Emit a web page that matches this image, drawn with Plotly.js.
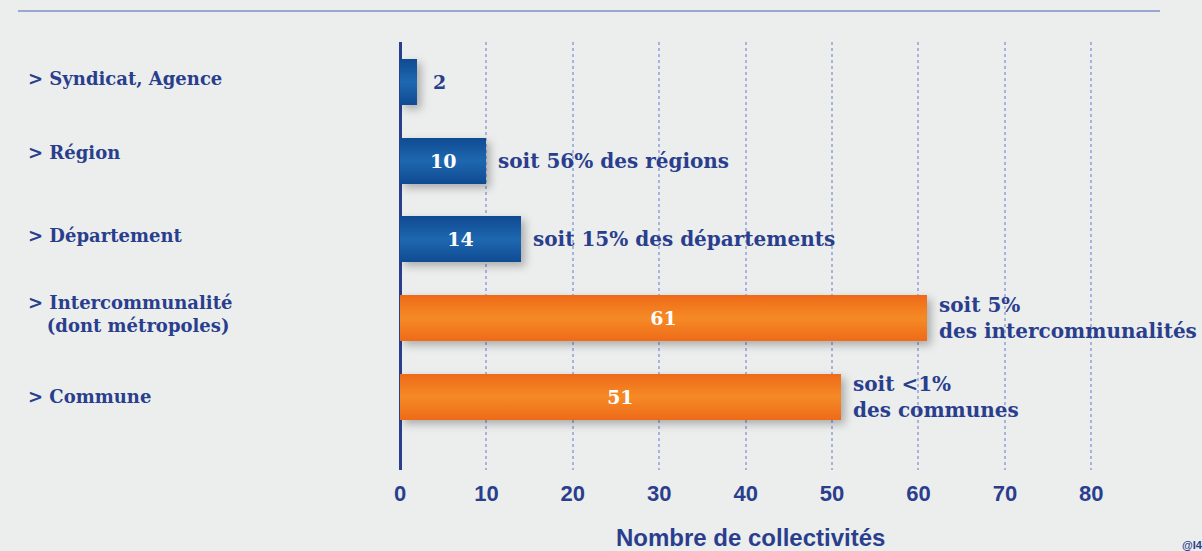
<!DOCTYPE html>
<html lang="fr">
<head>
<meta charset="utf-8">
<title>Nombre de collectivités</title>
<script src="https://cdn.plot.ly/plotly-3.0.1.min.js"></script>
<style>
    html, body { margin: 0; padding: 0; background: #eceeed; }
    #chart { width: 1202px; height: 551px; }
    /* petite ombre portée sous les barres */
    #chart .bars .point path { filter: drop-shadow(4px 4px 4px rgba(0, 0, 0, 0.28)); }
</style>
</head>
<body>
<div id="chart"></div>
<script>
// ---- données ----
const categories = ['Syndicat, Agence', 'Région', 'Département', 'Intercommunalité', 'Commune'];
const categoryLabels = [
    '&gt; Syndicat, Agence',
    '&gt; Région',
    '&gt; Département',
    '&gt; Intercommunalité<br>\u00A0\u00A0\u00A0(dont métropoles)',
    '&gt; Commune'
];
const values = [2, 10, 14, 61, 51];
const shareTexts = [
    '',
    'soit 56% des régions',
    'soit 15% des départements',
    'soit 5%<br>des intercommunalités',
    'soit &lt;1%<br>des communes'
];
const groups = ['autre', 'autre', 'autre', 'bloc', 'bloc'];
const xTicks = [0, 10, 20, 30, 40, 50, 60, 70, 80];

// ---- styles ----
const DARK_BLUE = '#2a3e8e';
const groupColors = { autre: '#1a5fa8', bloc: '#f47b20' };
const groupGradients = {
    autre: ['#0f4a92', '#1e68b0', '#0f4a92'],
    bloc: ['#ee6a18', '#f58a26', '#ee6a18']
};
const SLAB = '"DejaVu Serif", serif';
const SANS = '"Liberation Sans", Arial, sans-serif';
const labelShift = [4, 8, 4, 4, 0];     // petits décalages verticaux des libellés (px, vers le haut)

function buildAnnotations()
{
    const notes = [];

    // libellés des catégories à gauche
    categories.forEach((cat, i) => {
        notes.push({
            xref: 'paper', yref: 'y',
            x: -0.4705, y: cat,
            xanchor: 'left', yanchor: 'middle', align: 'left',
            yshift: labelShift[i],
            text: categoryLabels[i],
            showarrow: false,
            font: { family: SLAB, size: 18, color: DARK_BLUE, weight: 'bold' }
        });
    });

    // valeur à l'extérieur pour les barres trop courtes
    categories.forEach((cat, i) => {
        if (values[i] >= 5) return;
        notes.push({
            xref: 'x', yref: 'y',
            x: values[i], y: cat,
            xanchor: 'left', yanchor: 'middle',
            xshift: 14,
            text: String(values[i]),
            showarrow: false,
            font: { family: SLAB, size: 19, color: DARK_BLUE, weight: 'bold' }
        });
    });

    // "soit xx% des ..." à droite des barres
    categories.forEach((cat, i) => {
        if (!shareTexts[i]) return;
        notes.push({
            xref: 'x', yref: 'y',
            x: values[i], y: cat,
            xanchor: 'left', yanchor: 'middle', align: 'left',
            xshift: 10,
            text: shareTexts[i],
            showarrow: false,
            font: { family: SLAB, size: 20, color: DARK_BLUE, weight: 'bold' }
        });
    });

    // titre de l'axe
    notes.push({
        xref: 'paper', yref: 'paper',
        x: 0.4415, y: -0.158,
        xanchor: 'center', yanchor: 'middle',
        text: 'Nombre de collectivités',
        showarrow: false,
        font: { family: SANS, size: 24, color: DARK_BLUE, weight: 'bold' }
    });

    // source (coupée au bord, comme sur l'original)
    notes.push({
        xref: 'paper', yref: 'paper',
        x: 0.981, y: -0.176,
        xanchor: 'left', yanchor: 'middle',
        text: '@I4CE',
        showarrow: false,
        font: { family: SANS, size: 11, color: DARK_BLUE, weight: 'bold' }
    });

    return notes;
}

function applyBarGradients(chartDiv)          // dégradé léger sur les barres
{
    const svg = chartDiv.querySelector('svg.main-svg');
    if (!svg) return;
    const ns = 'http://www.w3.org/2000/svg';
    let defs = svg.querySelector('defs');
    if (!defs) {
        defs = document.createElementNS(ns, 'defs');
        svg.insertBefore(defs, svg.firstChild);
    }
    Object.keys(groupGradients).forEach(g => {
        const grad = document.createElementNS(ns, 'linearGradient');
        grad.setAttribute('id', 'grad-' + g);
        grad.setAttribute('x1', '0'); grad.setAttribute('y1', '0');
        grad.setAttribute('x2', '0'); grad.setAttribute('y2', '1');
        groupGradients[g].forEach((c, k, arr) => {
            const stop = document.createElementNS(ns, 'stop');
            stop.setAttribute('offset', (k / (arr.length - 1) * 100) + '%');
            stop.setAttribute('stop-color', c);
            grad.appendChild(stop);
        });
        defs.appendChild(grad);
    });
    chartDiv.querySelectorAll('.bars .point path').forEach((p, i) => {
        if (groups[i]) p.style.fill = 'url(#grad-' + groups[i] + ')';
    });
}

document.addEventListener('DOMContentLoaded', function() {
    const chartDiv = document.getElementById('chart');

    const trace = {
        type: 'bar',
        orientation: 'h',
        y: categories,
        x: values,
        width: 0.585,
        marker: { color: groups.map(g => groupColors[g]), line: { width: 0 } },
        text: values.map(String),
        textposition: values.map(v => v < 5 ? 'none' : 'inside'),
        insidetextanchor: 'middle',
        insidetextfont: { family: SLAB, size: 19, color: '#ffffff', weight: 'bold' },
        cliponaxis: false,
        hoverinfo: 'skip'
    };

    const layout = {
        width: 1202,
        height: 551,
        margin: { l: 400, r: 7, t: 42, b: 81, pad: 0 },
        paper_bgcolor: '#eceeed',
        plot_bgcolor: '#eceeed',
        showlegend: false,
        bargap: 0,
        xaxis: {
            range: [0, 92],
            tickvals: xTicks,
            ticktext: xTicks.map(String),
            ticks: '',
            ticklabelstandoff: 8,
            tickfont: { family: SANS, size: 22, color: DARK_BLUE, weight: 'bold' },
            showgrid: true,
            gridcolor: '#a7b3dd',
            gridwidth: 2,
            griddash: 'dot',
            zeroline: true,
            zerolinecolor: DARK_BLUE,
            zerolinewidth: 3,
            showline: false,
            fixedrange: true
        },
        yaxis: {
            type: 'category',
            categoryorder: 'array',
            categoryarray: categories,
            range: [4.93, -0.51],
            showticklabels: false,
            showgrid: false,
            zeroline: false,
            showline: false,
            ticks: '',
            fixedrange: true
        },
        shapes: [{
            type: 'line',
            xref: 'paper', yref: 'paper',
            x0: -0.4805, x1: 0.956,
            y0: 1.0724, y1: 1.0724,
            line: { color: '#7f90c4', width: 1.5 }
        }],
        annotations: buildAnnotations()
    };

    Plotly.newPlot(chartDiv, [trace], layout, { displayModeBar: false, staticPlot: true })
        .then(() => applyBarGradients(chartDiv));
});
</script>
</body>
</html>
